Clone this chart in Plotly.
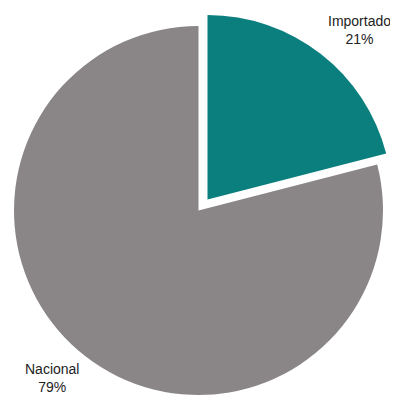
import plotly.graph_objects as go

categories = ["Importado", "Nacional"]
values = [21, 79]
colors = ["#0a7f7e", "#8a8688"]

# page body has an 8px margin, so the figure is 8px smaller than the window
W, H = 390, 388

def dom(cx, cy, r):
    return dict(x=[(cx - r) / W, (cx + r) / W], y=[1 - (cy + r) / H, 1 - (cy - r) / H])

labels_txt = [f"{c}<br>{v}%" for c, v in zip(categories, values)]
font = dict(family="Liberation Sans, Arial, sans-serif", size=14, color="#222")

fig = go.Figure()
# base pie: Nacional slice visible
fig.add_trace(go.Pie(
    labels=categories, values=values, sort=False, direction="clockwise", rotation=0,
    marker=dict(colors=["rgba(0,0,0,0)", colors[1]], line=dict(width=0)),
    textinfo="none", domain=dom(190.5, 202.5, 184.5), showlegend=False,
    hoverinfo="label+percent",
))
# exploded slice: Importado
fig.add_trace(go.Pie(
    labels=categories, values=values, sort=False, direction="clockwise", rotation=0,
    marker=dict(colors=[colors[0], "rgba(0,0,0,0)"], line=dict(width=0)),
    textinfo="none", domain=dom(199.5, 191.5, 184.5), showlegend=False,
    hoverinfo="label+percent",
))

label_pos = [(351, 21.5), (44, 370)]
for txt, (px, py) in zip(labels_txt, label_pos):
    fig.add_annotation(text=txt, x=px / W, y=1 - py / H, xref="paper", yref="paper",
                       xanchor="center", yanchor="middle", showarrow=False,
                       font=font, align="center")

fig.update_layout(width=W, height=H, margin=dict(l=0, r=0, t=0, b=0),
                  paper_bgcolor="white", plot_bgcolor="white")
fig.write_html("out.html")
